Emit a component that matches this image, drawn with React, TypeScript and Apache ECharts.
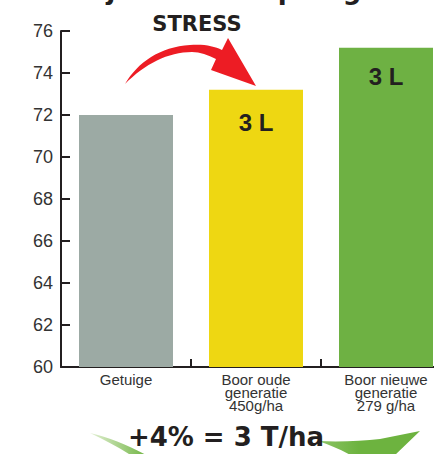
import React, { useEffect, useRef } from "react";
import * as echarts from "echarts";

const categories = ["Getuige", "Boor oude\ngeneratie\n450g/ha", "Boor nieuwe\ngeneratie\n279 g/ha"];
const values = [72.0, 73.2, 75.2];
const barLabels = ["", "3 L", "3 L"];
const barColors = ["#9caaa4", "#eed712", "#6eb143"];
const yMin = 60;
const yMax = 76;
const yInterval = 2;
const stressText = "STRESS";
const gainText = "+4% = 3 T/ha";
const clippedTitleGlyphs = ["j", "p", "g"];

const RED_ARROW =
  "M125,84 C138,62 160,47 190,45 C204,44 214,46 222,50 L228,38 L256,86 L211,70 L216,59 C208,55 200,52 192,52 C168,52 145,64 125,84 Z";
const GREEN_LEFT = "M90,433 C110,438 128,445 148,456 L132,456 C120,448 105,440 90,433 Z";
const GREEN_RIGHT =
  "M318,441 C340,442 362,441 380,439 L420,431 L394,456 L352,456 C342,450 330,445 318,441 Z";

echarts.graphic.registerShape("redArrow", echarts.graphic.extendPath(RED_ARROW, {}));
echarts.graphic.registerShape("greenLeft", echarts.graphic.extendPath(GREEN_LEFT, {}));
echarts.graphic.registerShape("greenRight", echarts.graphic.extendPath(GREEN_RIGHT, {}));

const labelOffsets = [0, 33, 29];

export default function App() {
  const ref = useRef<HTMLDivElement>(null);
  useEffect(() => {
    if (!ref.current) return;
    const chart = echarts.init(ref.current, undefined, { renderer: "svg" });
    const dark = "#231f20";
    const glyphX = [111, 287, 352];
    chart.setOption({
      animation: false,
      grid: {
        left: 61,
        top: 31,
        bottom: 87,
        width: 390,
        containLabel: false,
        outerBoundsMode: "none",
      },
      xAxis: {
        type: "category",
        data: categories,
        axisLine: { show: true, lineStyle: { color: dark, width: 2 } },
        axisTick: { show: true, inside: true, length: 8, lineStyle: { color: dark, width: 2 } },
        axisLabel: {
          interval: 0,
          color: "#333",
          fontSize: 15,
          lineHeight: 13,
          margin: 6,
          fontFamily: "'Liberation Sans Narrow', 'Liberation Sans'",
        },
        splitLine: { show: false },
      },
      yAxis: {
        type: "value",
        min: yMin,
        max: yMax,
        interval: yInterval,
        axisLine: { show: true, lineStyle: { color: dark, width: 2 } },
        axisTick: { show: true, inside: true, length: 9, lineStyle: { color: dark, width: 2 } },
        axisLabel: { color: "#333", fontSize: 18, margin: 8, fontFamily: "Liberation Sans" },
        splitLine: { show: false },
      },
      series: [
        {
          type: "bar",
          barWidth: 94,
          data: values.map((v, i) => ({
            value: v,
            itemStyle: { color: barColors[i] },
            label: {
              show: barLabels[i] !== "",
              formatter: barLabels[i],
              position: ["50%", labelOffsets[i]],
              align: "center",
              verticalAlign: "middle",
              color: dark,
              fontSize: 24,
              fontWeight: "bold",
              fontFamily: "Liberation Sans",
            },
          })),
        },
      ],
      graphic: [
        ...clippedTitleGlyphs.map((g, i) => ({
          type: "text",
          x: glyphX[i],
          y: -10,
          style: {
            text: g,
            fill: dark,
            fontSize: 26,
            fontWeight: "bold",
            fontFamily: "DejaVu Sans",
            align: "center",
            verticalAlign: "middle",
            textAlign: "center",
            textVerticalAlign: "middle",
          },
        })),
        {
          type: "redArrow",
          x: 0,
          y: 0,
          style: { fill: "#ed1c24" },
        },
        {
          type: "text",
          x: 197,
          y: 23.5,
          style: {
            text: stressText,
            fill: dark,
            fontSize: 21,
            fontWeight: "bold",
            fontFamily: "DejaVu Sans",
            align: "center",
            verticalAlign: "middle",
            textAlign: "center",
            textVerticalAlign: "middle",
          },
        },
        {
          type: "greenLeft",
          x: 0,
          y: 0,
          style: {
            fill: new echarts.graphic.LinearGradient(0, 0, 1, 0, [
              { offset: 0, color: "#e3f0d4" },
              { offset: 1, color: "#6db33f" },
            ]),
          },
        },
        {
          type: "greenRight",
          x: 0,
          y: 0,
          style: {
            fill: new echarts.graphic.LinearGradient(0, 0, 1, 0, [
              { offset: 0, color: "#8cc466" },
              { offset: 0.4, color: "#6db33f" },
              { offset: 1, color: "#6db33f" },
            ]),
          },
        },
        {
          type: "text",
          x: 226,
          y: 436.5,
          style: {
            text: gainText,
            fill: dark,
            fontSize: 26,
            fontWeight: "bold",
            fontFamily: "DejaVu Sans",
            align: "center",
            verticalAlign: "middle",
            textAlign: "center",
            textVerticalAlign: "middle",
          },
        },
      ],
    });
    return () => chart.dispose();
  }, []);
  return (
    <div
      ref={ref}
      style={{ position: "fixed", left: 0, top: 0, width: 434, height: 454, background: "#fff" }}
    />
  );
}
